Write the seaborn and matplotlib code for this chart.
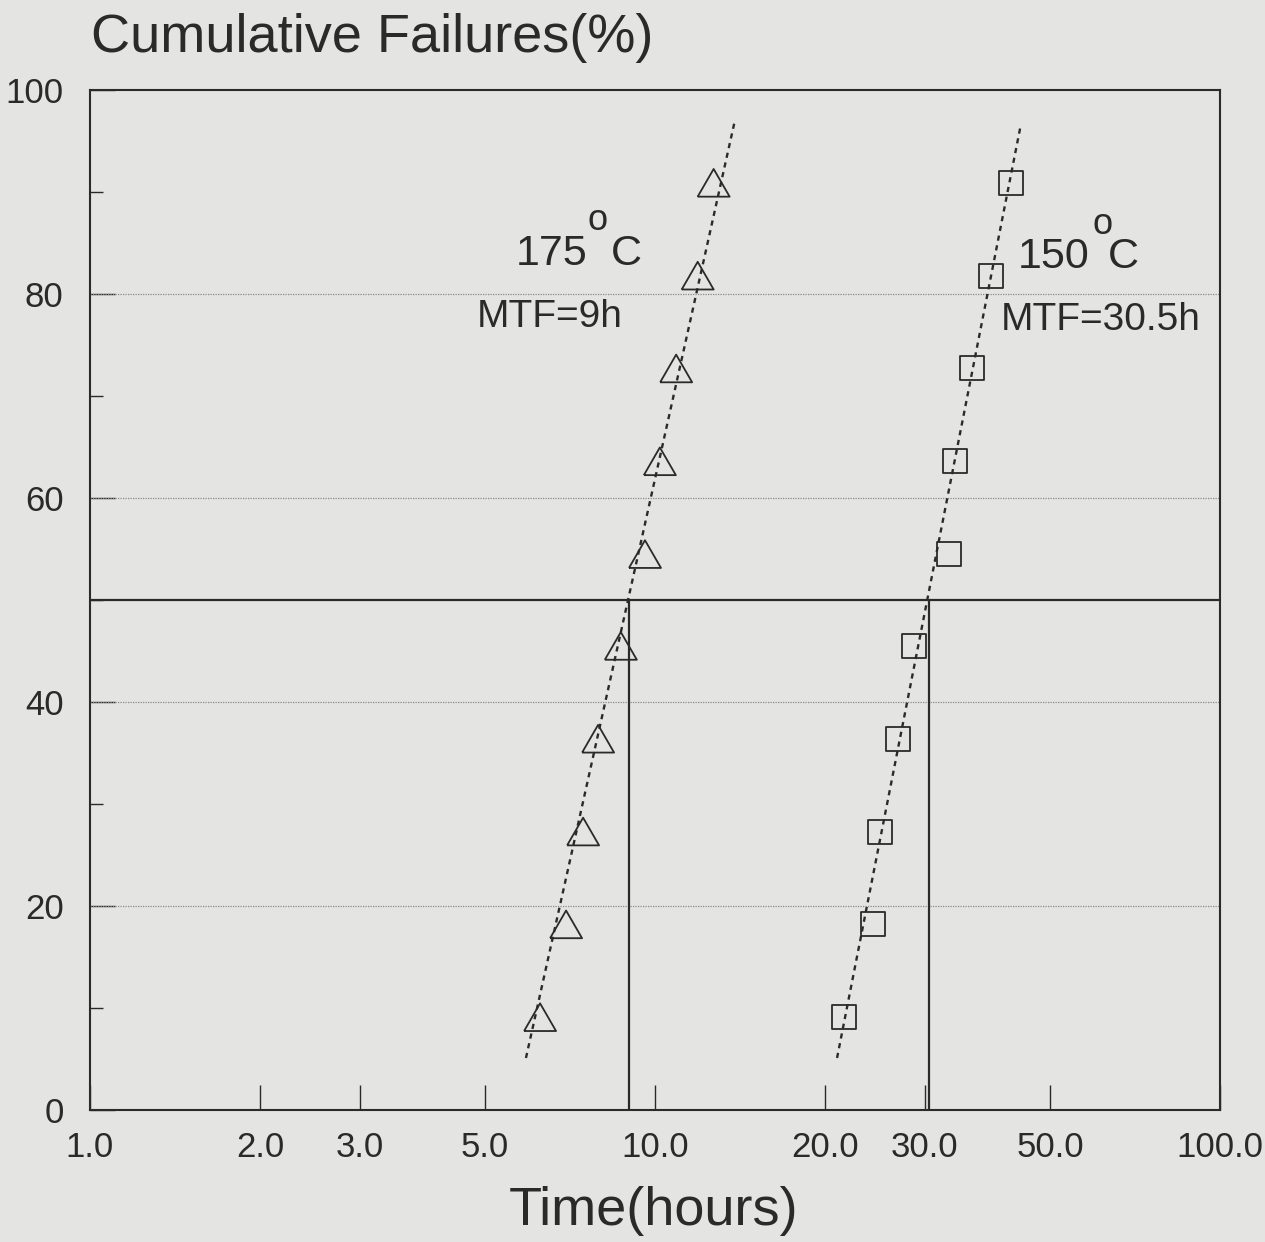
import numpy as np
import pandas as pd
import matplotlib
matplotlib.use("Agg")
import matplotlib.pyplot as plt
import seaborn as sns
from matplotlib.ticker import FixedLocator, FixedFormatter, NullFormatter

# ---- data ----
cum_fail = [9.1, 18.2, 27.3, 36.4, 45.5, 54.5, 63.6, 72.7, 81.8, 90.9]
t_175 = [6.26, 6.96, 7.46, 7.93, 8.70, 9.60, 10.2, 10.9, 11.9, 12.7]
t_150 = [21.6, 24.3, 25.0, 26.9, 28.7, 33.1, 34.0, 36.4, 39.3, 42.7]
fit_y = [5.1, 97.1]
fit_175_x = [5.91, 13.86]
fit_150_y = [5.1, 96.3]
fit_150_x = [21.0, 44.3]
mtf = [9.0, 30.5]
x_ticks = [1, 2, 3, 5, 10, 20, 30, 50, 100]
x_tick_labels = ["1.0", "2.0", "3.0", "5.0", "10.0", "20.0", "30.0", "50.0", "100.0"]
y_ticks = [0, 20, 40, 60, 80, 100]
y_minor = [10, 30, 50, 70, 90]

BG = "#e4e4e2"
INK = "#2a2a2a"

sns.set_theme(style="ticks")
plt.rcParams["font.family"] = ["Liberation Sans", "DejaVu Sans"]

W, H = 1265, 1242
fig = plt.figure(figsize=(W / 100, H / 100), dpi=100, facecolor=BG)
ax = fig.add_axes([90 / W, 1 - 1110 / H, (1220 - 90) / W, (1110 - 90) / H])
ax.set_facecolor(BG)
ax.set_xscale("log")
ax.set_xlim(1, 100)
ax.set_ylim(0, 100)

# grid lines (dotted)
for g in [20, 40, 60, 80]:
    ax.axhline(g, color="#8a8a8a", lw=0.9, ls=(0, (1, 1)), zorder=1)

# MTF reference lines
ax.axhline(50, color=INK, lw=1.6, zorder=2)
for m in mtf:
    ax.plot([m, m], [0, 50], color=INK, lw=1.6, zorder=2)

# fit lines
sns.lineplot(x=fit_175_x, y=fit_y, ax=ax, color=INK, lw=1.7,
             linestyle=(0, (2.2, 2.0)), sort=False, estimator=None, zorder=3)
sns.lineplot(x=fit_150_x, y=fit_150_y, ax=ax, color=INK, lw=1.7,
             linestyle=(0, (2.2, 2.0)), sort=False, estimator=None, zorder=3)

tri = [(-1, -0.866), (1, -0.866), (0, 0.866), (-1, -0.866)]
sns.scatterplot(x=t_175, y=cum_fail, ax=ax, marker=tri, s=530,
                facecolor="none", edgecolor=INK, linewidth=1.3, zorder=4)
sns.scatterplot(x=t_150, y=cum_fail, ax=ax, marker="s", s=300,
                facecolor="none", edgecolor=INK, linewidth=1.3, zorder=4)

# ticks
ax.xaxis.set_major_locator(FixedLocator(x_ticks))
ax.xaxis.set_major_formatter(FixedFormatter(x_tick_labels))
ax.xaxis.set_minor_locator(FixedLocator([]))
ax.xaxis.set_minor_formatter(NullFormatter())
ax.yaxis.set_major_locator(FixedLocator(y_ticks))
ax.yaxis.set_minor_locator(FixedLocator(y_minor))
ax.tick_params(axis="x", which="major", direction="in", length=18, width=1.0,
               color=INK, labelsize=25, labelcolor=INK, pad=15, top=False)
ax.tick_params(axis="y", which="major", direction="in", length=18, width=1.0,
               color=INK, labelsize=25, labelcolor=INK, pad=19, right=False)
ax.tick_params(axis="y", which="minor", direction="in", length=9, width=1.0,
               color=INK, right=False)
for sp in ax.spines.values():
    sp.set_color(INK)
    sp.set_linewidth(1.5)
    sp.set_visible(True)

ax.set_xlabel("")
ax.set_ylabel("")

def ftext(x, y, s, **kw):
    fig.text(x / W, 1 - y / H, s, color=INK, **kw)

ftext(91, 52, "Cumulative Failures(%)", fontsize=39, ha="left", va="baseline")
ftext(654, 1225, "Time(hours)", fontsize=39, ha="center", va="baseline")

ftext(516, 265, "175", fontsize=31, ha="left", va="baseline")
ftext(598, 221, "o", fontsize=26, ha="center", va="center")
ftext(611, 265, "C", fontsize=31, ha="left", va="baseline")
ftext(477, 327, "MTF=9h", fontsize=28, ha="left", va="baseline")

ftext(1018, 268, "150", fontsize=31, ha="left", va="baseline")
ftext(1103, 224, "o", fontsize=26, ha="center", va="center")
ftext(1108, 268, "C", fontsize=31, ha="left", va="baseline")
ftext(1001, 330, "MTF=30.5h", fontsize=28, ha="left", va="baseline")

fig.savefig("out.png", dpi=100, facecolor=BG)
